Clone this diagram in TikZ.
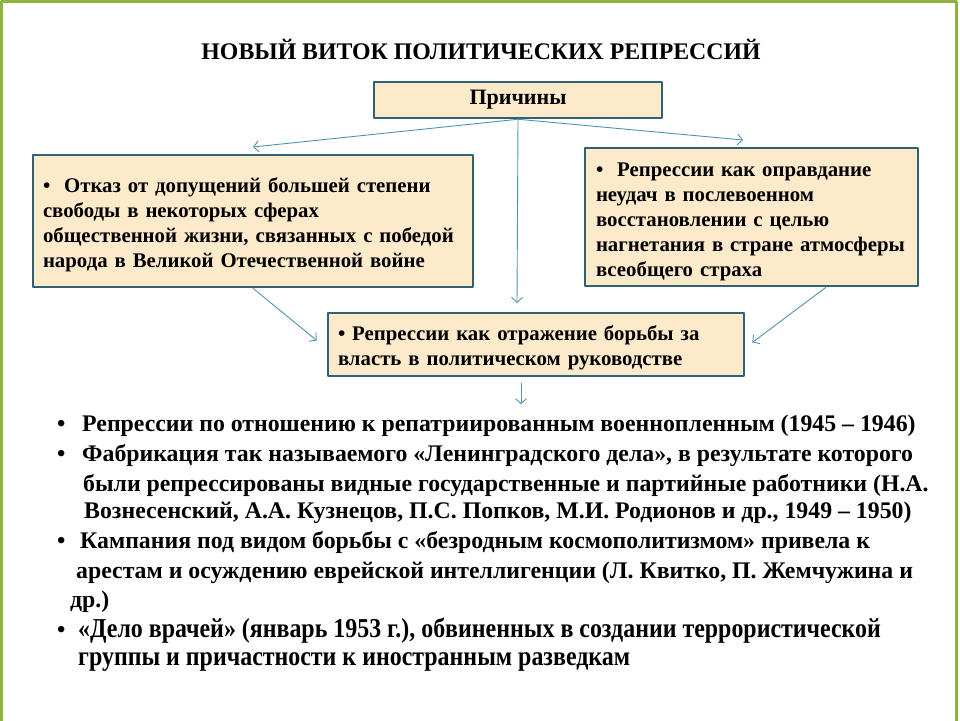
\documentclass[tikz,border=0pt]{standalone}
\usepackage{fontspec}
\setmainfont{Liberation Serif}
\usetikzlibrary{arrows.meta}
\definecolor{slideframe}{HTML}{8CB43C}
\definecolor{boxfill}{HTML}{FDEACB}
\definecolor{boxline}{HTML}{2F6272}
\definecolor{arrline}{HTML}{4E93AD}
\begin{document}
\begin{tikzpicture}[x=1pt,y=-1pt,line join=round,>={Straight Barb[length=5pt,width=11pt]}]
		\tikzset{cause/.style={draw=boxline,line width=2.5pt,fill=boxfill,inner xsep=10pt,inner ysep=0pt,align=left,font=\fontsize{20.8}{25}\selectfont\bfseries},
			topgap/.style={execute at begin node={\rule{0pt}{#1}}},
			link/.style={->,draw=arrline,line width=0.9pt},
			item/.style={anchor=base west,inner sep=0pt,font=\fontsize{23.8}{29}\selectfont\bfseries}}
		\useasboundingbox (0,0) rectangle (960,720);
		% slide frame
		\draw[slideframe,line width=3pt] (1.5,730) -- (1.5,1.5) -- (956,1.5) -- (956,730);
		\node[font=\fontsize{23.8}{28}\selectfont\bfseries] (title) at (481,49) {НОВЫЙ ВИТОК ПОЛИТИЧЕСКИХ РЕПРЕССИЙ};
		% causes
		\node[cause,align=center,minimum width=288,minimum height=36,font=\fontsize{22}{25}\selectfont\bfseries] (why) at (518,100) {Причины};
		\node[cause,topgap=23pt,text width=420,minimum height=132] (left) at (253,221) {•\ \ Отказ от допущений большей степени\\свободы в некоторых сферах\\общественной жизни, связанных с победой\\народа в Великой Отечественной войне};
		\node[cause,topgap=24pt,inner xsep=11pt,text width=311,minimum height=138] (right) at (751.5,217) {•\ \ Репрессии как оправдание\\неудач в послевоенном\\восстановлении с целью\\нагнетания в стране атмосферы\\всеобщего страха};
		\node[cause,topgap=21pt,text width=396,minimum height=63] (mid) at (536,344.5) {• Репрессии как отражение борьбы за\\власть в политическом руководстве};
		\coordinate (toleft) at (253,147);
		\coordinate (toright) at (743,140);
		\coordinate (tomid) at (517,303);
		\draw[link] (why.south) -- (toleft);
		\draw[link] (why.south) -- (toright);
		\draw[link] (why.south) -- (tomid);
		\draw[link] (left.south) -- ([shift={(-10pt,4pt)}]mid.west);
		\draw[link] ([xshift=74.5pt]right.south) -- ([shift={(7pt,2pt)}]mid.east);
		\draw[link] ([shift={(-15pt,-6pt)}]mid.south) -- ++(0,21);
		% consequences
		\node[item] (b1) at (57,431) {•};
		\node[item] (l1) at (82,431) {Репрессии по отношению к репатриированным военнопленным (1945 – 1946)};
		\node[item] (b2) at (57,461) {•};
		\node[item] (l2) at (82,461) {Фабрикация так называемого «Ленинградского дела», в результате которого};
		\node[item] (l3) at (83,491) {были репрессированы видные государственные и партийные работники (Н.А.};
		\node[item] (l4) at (84,518) {Вознесенский, А.А. Кузнецов, П.С. Попков, М.И. Родионов и др., 1949 – 1950)};
		\node[item] (b3) at (57,548) {•};
		\node[item] (l5) at (80,548) {Кампания под видом борьбы с «безродным космополитизмом» привела к};
		\node[item] (l6) at (76,578) {арестам и осуждению еврейской интеллигенции (Л. Квитко, П. Жемчужина и};
		\node[item] (l7) at (70,607) {др.)};
		\node[item] (b4) at (57,637) {•};
		\node[item] (l8) at (78,637) {\scalebox{0.92}[1.05]{\fontsize{26}{29}\selectfont«Дело врачей» (январь 1953 г.), обвиненных в создании террористической}};
		\node[item] (l9) at (78,665) {\scalebox{0.92}[1.05]{\fontsize{26}{29}\selectfont группы и причастности к иностранным разведкам}};
		\end{tikzpicture}
\end{document}
